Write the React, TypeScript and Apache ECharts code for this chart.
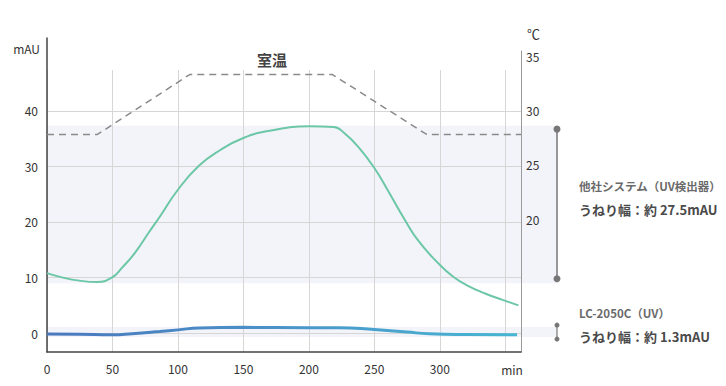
import React, { useEffect, useRef } from 'react';
import * as echarts from 'echarts';

// x axis (min)
const timeTicks = [0, 50, 100, 150, 200, 250, 300];
const timeMax = 362;

// left axis (mAU) tick labels
const mauTicks = [0, 10, 20, 30, 40];
// right axis (℃) tick labels
const tempTicks = [20, 25, 30, 35];

// other-company system (green)
const greenTimes = [0, 38.5, 50, 57, 67, 78, 86, 100, 116, 132, 150, 170, 200, 219, 227, 238.5, 250, 261, 273, 284, 300, 310, 320, 335, 348, 360];
const greenValues = [10.8, 9.2, 10.1, 11.7, 14.4, 18.2, 20.9, 25.8, 30.1, 32.9, 35.1, 36.4, 37.2, 37.1, 36.0, 33.3, 29.7, 25.4, 20.5, 16.5, 12.3, 10.2, 8.7, 7.1, 6.0, 5.0];

// LC-2050C (blue)
const blueTimes = [0, 25, 50, 65, 86, 100, 116, 150, 200, 223, 250, 275, 292, 320, 359];
const blueValues = [-0.15, -0.2, -0.3, -0.1, 0.3, 0.6, 0.95, 1.05, 1.0, 1.0, 0.65, 0.2, -0.1, -0.25, -0.3];

// room temperature (dashed)
const tempTimes = [0, 38.5, 109, 218, 290, 362];
const tempValues = [27.8, 27.8, 33.3, 33.3, 27.8, 27.8];

// wander bands (mAU)
const bigBand = [9.0, 37.3];
const bigBracket = [9.8, 36.7];
const smallBand = [-0.7, 1.1];
const smallBracket = [-1.05, 1.45];

const FONT = "'Noto Sans CJK JP', 'Noto Sans', sans-serif";

const zip = (a: number[], b: number[]) => a.map((t, i) => [t, b[i]]);

export default function App() {
  const ref = useRef<HTMLDivElement>(null);

  useEffect(() => {
    document.body.style.margin = '0';
    const chart = echarts.init(ref.current!, null, { renderer: 'svg' });
    const option: any = {
      animation: false,
      textStyle: { fontFamily: FONT },
      grid: [
        { left: 47, right: 205, top: 38, bottom: 34 },
        { left: 47, right: 205, top: 51, bottom: 34 },
        { left: 47, right: 205, top: 70, bottom: 34 },
      ],
      xAxis: [
        {
          type: 'value', gridIndex: 0, min: 0, max: timeMax, interval: 50,
          axisLine: { show: true, onZero: false, lineStyle: { color: '#444', width: 1.5 } },
          axisTick: { show: false },
          splitLine: { show: false },
          axisLabel: {
            color: '#333', fontSize: 12, margin: 10, fontFamily: FONT,
            showMaxLabel: false,
            formatter: (v: number) => (timeTicks.includes(v) ? String(v) : ''),
          },
        },
        { type: 'value', gridIndex: 1, min: 0, max: timeMax, show: false, axisLine: { onZero: false } },
        {
          type: 'value', gridIndex: 2, min: 0, max: timeMax, interval: 50,
          axisLine: { show: false, onZero: false }, axisTick: { show: false }, axisLabel: { show: false },
          splitLine: { show: true, lineStyle: { color: '#d6d6d6', width: 1 } },
        },
      ],
      yAxis: [
        {
          type: 'value', gridIndex: 0, min: -3.38, max: 53.09,
          axisLine: { show: true, onZero: false, lineStyle: { color: '#444', width: 1.5 } },
          axisTick: { show: false, customValues: mauTicks },
          axisLabel: { color: '#333', fontSize: 12, margin: 9, fontFamily: FONT, customValues: mauTicks },
          splitLine: { show: true, lineStyle: { color: '#d6d6d6', width: 1 } },
        },
        {
          type: 'value', gridIndex: 1, position: 'right', min: 7.84, max: 35.46,
          axisLine: { show: true, onZero: false, lineStyle: { color: '#9a9a9a', width: 1 } },
          axisTick: { show: false, customValues: tempTicks },
          axisLabel: { color: '#333', fontSize: 12, margin: 5, fontFamily: FONT, customValues: tempTicks },
          splitLine: { show: false },
        },
        { type: 'value', gridIndex: 2, show: false, min: 0, max: 1 },
      ],
      series: [
        {
          type: 'line', xAxisIndex: 0, yAxisIndex: 0, smooth: 0.5, symbol: 'none',
          data: zip(greenTimes, greenValues),
          lineStyle: { color: '#6cc7a6', width: 2 },
        },
        {
          type: 'line', xAxisIndex: 0, yAxisIndex: 0, smooth: 0.5, symbol: 'none',
          data: zip(blueTimes, blueValues),
          lineStyle: {
            width: 3,
            color: new echarts.graphic.LinearGradient(0, 0, 1, 0, [
              { offset: 0, color: '#4a78bd' },
              { offset: 0.45, color: '#4a90c8' },
              { offset: 1, color: '#47b6d2' },
            ]),
          },
        },
        {
          type: 'line', xAxisIndex: 1, yAxisIndex: 1, symbol: 'none',
          data: zip(tempTimes, tempValues),
          lineStyle: { color: '#8a8a8a', width: 1.5, type: [7, 5] },
        },
      ],
    };
    chart.setOption(option);

    const py = (v: number) => chart.convertToPixel({ yAxisIndex: 0 }, v) as number;
    const x0 = chart.convertToPixel({ xAxisIndex: 0 }, 0) as number;
    const bx = 557;
    const bandFill = '#f3f4fa';
    const grey = '#777';
    const graphics: any[] = [
      {
        type: 'rect', z: -100, silent: true,
        shape: { x: x0, y: py(bigBand[1]), width: bx - x0, height: py(bigBand[0]) - py(bigBand[1]) },
        style: { fill: bandFill },
      },
      {
        type: 'rect', z: -100, silent: true,
        shape: { x: x0, y: py(smallBand[1]), width: bx - x0, height: py(smallBand[0]) - py(smallBand[1]) },
        style: { fill: bandFill },
      },
      {
        type: 'line', z: 10, silent: true,
        shape: { x1: bx, y1: py(bigBracket[1]), x2: bx, y2: py(bigBracket[0]) },
        style: { stroke: grey, lineWidth: 1.5 },
      },
      { type: 'circle', z: 10, silent: true, shape: { cx: bx, cy: py(bigBracket[1]), r: 3.5 }, style: { fill: grey } },
      { type: 'circle', z: 10, silent: true, shape: { cx: bx, cy: py(bigBracket[0]), r: 3.5 }, style: { fill: grey } },
      {
        type: 'line', z: 10, silent: true,
        shape: { x1: bx, y1: py(smallBracket[1]), x2: bx, y2: py(smallBracket[0]) },
        style: { stroke: grey, lineWidth: 1.2 },
      },
      { type: 'circle', z: 10, silent: true, shape: { cx: bx, cy: py(smallBracket[1]), r: 2.5 }, style: { fill: grey } },
      { type: 'circle', z: 10, silent: true, shape: { cx: bx, cy: py(smallBracket[0]), r: 2.5 }, style: { fill: grey } },
      {
        type: 'text', x: 40, y: 48,
        style: { text: 'mAU', align: 'right', verticalAlign: 'middle', fontSize: 12, fontFamily: FONT, fill: '#333' },
      },
      {
        type: 'text', x: 527, y: 33,
        style: { text: '℃', align: 'left', verticalAlign: 'middle', fontSize: 13, fontFamily: FONT, fill: '#333' },
      },
      {
        type: 'text', x: 512, y: 369,
        style: { text: 'min', align: 'center', verticalAlign: 'middle', fontSize: 12, fontFamily: FONT, fill: '#333' },
      },
      {
        type: 'text', x: 272, y: 59,
        style: { text: '室温', align: 'center', verticalAlign: 'middle', fontSize: 15, fontWeight: 'bold', fontFamily: FONT, fill: '#444' },
      },
      {
        type: 'text', x: 579, y: 186,
        style: { text: '他社システム（UV検出器）', align: 'left', verticalAlign: 'middle', fontSize: 11.5, fontWeight: 'bold', fontFamily: FONT, fill: '#6a6a6a' },
      },
      {
        type: 'text', x: 579, y: 209,
        style: { text: 'うねり幅：約 27.5mAU', align: 'left', verticalAlign: 'middle', fontSize: 13, fontWeight: 'bold', fontFamily: FONT, fill: '#4a4a4a' },
      },
      {
        type: 'text', x: 579, y: 313,
        style: { text: 'LC-2050C（UV）', align: 'left', verticalAlign: 'middle', fontSize: 11.5, fontWeight: 'bold', fontFamily: FONT, fill: '#6a6a6a' },
      },
      {
        type: 'text', x: 579, y: 336,
        style: { text: 'うねり幅：約 1.3mAU', align: 'left', verticalAlign: 'middle', fontSize: 13, fontWeight: 'bold', fontFamily: FONT, fill: '#4a4a4a' },
      },
    ];
    chart.setOption({ graphic: graphics });

    return () => chart.dispose();
  }, []);

  return <div ref={ref} style={{ width: 726, height: 386 }} />;
}
